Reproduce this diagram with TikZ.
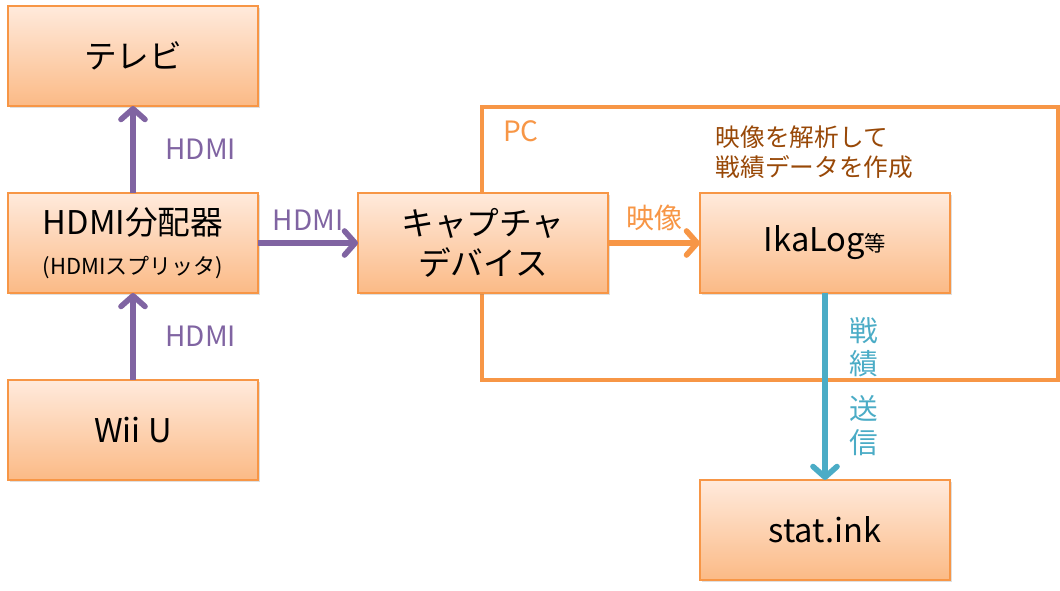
\documentclass[tikz,border=0pt]{standalone}
\usepackage{fontspec}
\setmainfont{Noto Sans CJK JP}
\usetikzlibrary{positioning, arrows.meta, shadows}

\definecolor{boxline}{HTML}{F79646}
\definecolor{boxtop}{HTML}{FFEADC}
\definecolor{boxbot}{HTML}{FBBA86}
\definecolor{hdmi}{HTML}{8064A2}
\definecolor{video}{HTML}{F79646}
\definecolor{send}{HTML}{4BACC6}
\definecolor{note}{HTML}{984807}

\begin{document}
\begin{tikzpicture}[
        x=0.75pt, y=-0.75pt,
        block/.style={rectangle, draw=boxline, line width=1.8pt, outer sep=0pt, top color=boxtop, bottom color=boxbot,
          minimum width=187.5pt, minimum height=75pt, align=center, font=\fontsize{24.5pt}{30pt}\selectfont,
          drop shadow={shadow xshift=1.2pt, shadow yshift=-1.5pt, opacity=0.25}},
        arrow/.style={line width=4.2pt, -{Straight Barb[length=8pt, width=18pt, round]}},
        lbl/.style={font=\fontsize{21pt}{22pt}\selectfont}
      ]
        \useasboundingbox (0,0) rectangle (1060,591);

        % PC frame
        \node[draw=boxline, line width=2.6pt, minimum width=432pt, minimum height=204.75pt] (pc) at (770,243.5) {};
        \node[lbl, text=video] (pclabel) at (521,131) {PC};
        \node[lbl, text=note, font=\fontsize{18.5pt}{22.5pt}\selectfont, align=left, anchor=west] (memo) at (711,152) {映像を解析して\\戦績データを作成};

        % Devices
        \node[block] (splitter) at (133,243) {HDMI分配器\\{\fontsize{16.5pt}{18pt}\selectfont (HDMIスプリッタ)}};
        \node[block, above=65.25pt of splitter] (tv) {テレビ};
        \node[block, below=65.25pt of splitter] (wiiu) {Wii U};
        \node[block, right=75pt of splitter] (capture) {キャプチャ\\デバイス};
        \node[block, right=69pt of capture] (ikalog) {IkaLog{\fontsize{16pt}{18pt}\selectfont 等}};
        \node[block, below=140.25pt of ikalog] (statink) {stat.ink};

        % Arrows
        \draw[arrow, hdmi] (wiiu) -- (splitter) node[midway, right=19pt, lbl] {HDMI};
        \draw[arrow, hdmi] (splitter) -- (tv) node[midway, right=19pt, lbl] {HDMI};
        \draw[arrow, hdmi] (splitter) -- (capture) node[midway, above=4pt, lbl] {HDMI};
        \draw[arrow, video] (capture) -- (ikalog) node[midway, above=4pt, lbl] {映像};
        \draw[arrow, send] (ikalog) -- (statink)
          node[pos=0.29, right=13pt, lbl, font=\fontsize{21.5pt}{25pt}\selectfont, align=center] {戦\\績}
          node[pos=0.71, right=13pt, lbl, font=\fontsize{21.5pt}{25pt}\selectfont, align=center] {送\\信};
      \end{tikzpicture}
\end{document}
